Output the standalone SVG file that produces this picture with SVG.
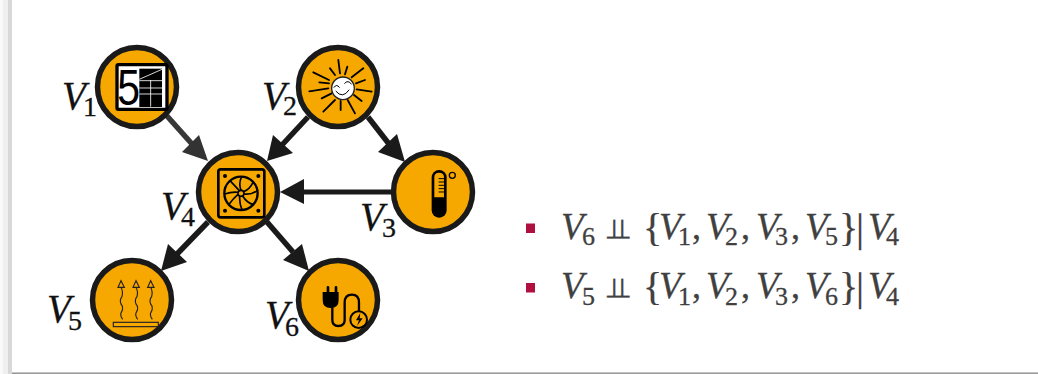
<svg xmlns="http://www.w3.org/2000/svg" width="1038" height="374" viewBox="0 0 1038 374">
<style>
.n{fill:#f7a800;stroke:#1a1a1a;stroke-width:5.500}
.v{font:italic 39px "Liberation Serif",serif;fill:#111;stroke:#111;stroke-width:.3}
.s{font:28px "Liberation Serif",serif;fill:#111;stroke:#111;stroke-width:.3}
.e{font:italic 37px "Liberation Serif",serif;fill:#404040;stroke:#404040;stroke-width:.3}
.d{font:26px "Liberation Serif",serif;fill:#404040;stroke:#404040;stroke-width:.3}
.p{font:36px "Liberation Serif",serif;fill:#404040}
.b{font:40px "Liberation Serif",serif;fill:#404040}
.i{font:28px "DejaVu Sans",sans-serif;fill:#404040;stroke:#404040;stroke-width:.3}
.c{fill:none;stroke:#1a1a1a;stroke-width:5.500}
.h{fill:#1a1a1a}
.k{fill:none;stroke:#000;stroke-linecap:round}
</style>
<rect width="1038" height="374" fill="#fff"/>
<rect x="0" y="0" width="3" height="374" fill="#fafafa"/>
<rect x="3" y="0" width="5" height="374" fill="#efefef"/>
<rect x="8" y="0" width="4" height="374" fill="#d8d8d8"/>
<rect x="12" y="373" width="1026" height="1" fill="#9a9a9a"/>
<rect x="12" y="372" width="1026" height="1" fill="#c4c4c4"/>

<g id="connectors">
<line x1="167" y1="116" x2="192" y2="144" class="c" style="stroke:#383838"/>
<polygon points="208,161 199,135 182,152" fill="#333"/>
<line x1="308" y1="117" x2="282" y2="145" class="c"/>
<polygon points="267,161 273,135 293,153" class="h"/>
<line x1="368" y1="117" x2="389" y2="144" class="c"/>
<polygon points="405,162 397,134 378,152" class="h"/>
<line x1="393" y1="192" x2="302" y2="192" class="c" style="stroke-width:5"/>
<polygon points="280,192 304,179 304,204" class="h"/>
<line x1="208" y1="222" x2="177" y2="254" class="c"/>
<polygon points="161,271 168,244 187,262" class="h"/>
<line x1="267" y1="222" x2="293" y2="252" class="c"/>
<polygon points="309,271 302,244 283,260" class="h"/>
</g>

<g id="V1">
<circle cx="137" cy="87" r="39.500" class="n"/>
<g transform="translate(40,30) scale(.3333)">
<rect x="231" y="104" width="150" height="134" rx="4" fill="#fff" stroke="#000" stroke-width="10"/>
<text x="0" y="0" transform="translate(232,224) scale(.82,1)" style="font:150px 'Liberation Sans',sans-serif;fill:#000">5</text>
<rect x="298" y="116" width="68" height="115" fill="#000"/>
<path d="M298 148L366 118M298 152H366M298 174H366M298 192H366M332 150V230" stroke="#fff" stroke-width="2.500" fill="none"/>
</g>
<text x="62" y="109" class="v">V<tspan class="s" x="83" y="116">1</tspan></text>
</g>

<g id="V2">
<circle cx="338" cy="87" r="39.500" class="n"/>
<g transform="translate(250,30) scale(.3333)">
<path class="k" stroke-width="5.500" d="M265 90L270 130M240 115L255 135M292 110L285 133M340 115L305 142M190 127L237 150M345 150L318 160M208 157L237 160M178 184L235 175M365 185L320 178M215 205L245 190M335 213L312 195M220 245L255 210M272 240L272 213M315 250L293 210"/>
<circle cx="279" cy="175" r="34" fill="#fff" stroke="#222" stroke-width="4"/>
<path class="k" stroke-width="3" stroke="#444" d="M252 172Q260 160 268 172M284 160Q294 148 304 162M258 184Q278 208 297 180"/>
</g>
<text x="262" y="109" class="v">V<tspan class="s" x="283" y="115">2</tspan></text>
</g>

<g id="V3">
<circle cx="433" cy="192" r="39.500" class="n"/>
<g transform="translate(250,30) scale(.3333)">
<rect x="545" y="420" width="45" height="143" rx="22" fill="#000"/>
<path d="M553 502V442Q553 428 567 428Q582 428 582 442V502Z" fill="#f7a800"/>
<path d="M566 446H582M566 456H582M566 466H582M566 476H582M566 486H582" stroke="#000" stroke-width="3"/>
<circle cx="607" cy="436" r="9" fill="none" stroke="#000" stroke-width="4"/>
</g>
<text x="360" y="230" class="v">V<tspan class="s" x="382" y="237">3</tspan></text>
</g>

<g id="V4">
<circle cx="238" cy="192" r="39.500" class="n"/>
<g transform="translate(200,140) scale(.3333)">
<rect x="55" y="88" width="138" height="144" rx="7" fill="none" stroke="#000" stroke-width="8"/>
<circle cx="123" cy="160" r="50" fill="none" stroke="#000" stroke-width="7"/>
<circle cx="123" cy="160" r="9" fill="none" stroke="#000" stroke-width="5"/>
<path fill="none" stroke="#000" stroke-width="5" d="M123 151Q115 130 125 110M131 155Q148 150 160 126M132 162Q155 165 172 152M128 168Q140 188 160 194M119 169Q118 190 126 210M114 163Q100 175 86 194M114 157Q95 155 74 162M118 152Q105 138 90 122"/>
<circle cx="75" cy="108" r="6"/><circle cx="175" cy="108" r="6"/><circle cx="75" cy="212" r="6"/><circle cx="175" cy="212" r="6"/>
</g>
<text x="161" y="219" class="v">V<tspan class="s" x="181" y="226">4</tspan></text>
</g>

<g id="V5">
<circle cx="132" cy="300" r="39.500" class="n"/>
<g transform="translate(30,200) scale(.3333)">
<rect x="250" y="367" width="135" height="13" fill="none" stroke="#222" stroke-width="3.500"/>
<g fill="none" stroke="#222" stroke-width="3.500">
<path d="M278 358Q268 345 275 335Q282 322 273 312Q268 300 276 290Q280 275 273 262"/>
<path d="M273 242L264 262H283Z"/>
<path d="M323 358Q313 345 320 335Q327 322 318 312Q313 300 321 290Q325 275 318 262"/>
<path d="M318 242L309 262H328Z"/>
<path d="M367 358Q357 345 364 335Q371 322 362 312Q357 300 365 290Q369 275 362 262"/>
<path d="M362 242L353 262H372Z"/>
</g>
</g>
<text x="47" y="322" class="v">V<tspan class="s" x="68" y="330">5</tspan></text>
</g>

<g id="V6">
<circle cx="338" cy="300" r="39.500" class="n"/>
<g transform="translate(200,140) scale(.3333)">
<path d="M368 456H416V480Q416 504 392 504Q368 504 368 480Z" fill="#000"/>
<path d="M384 456V442M408 456V442" stroke="#000" stroke-width="8" stroke-linecap="round"/>
<path fill="none" stroke="#000" stroke-width="7" d="M397 502V540Q397 558 415 558Q434 558 434 540V488Q434 464 456 464Q477 464 477 488V514"/>
<circle cx="476" cy="539" r="25" fill="#f7a800" stroke="#000" stroke-width="6"/>
<path d="M481 519L468 541H477L471 558L488 535H479Z" fill="#000"/>
</g>
<text x="265" y="328" class="v">V<tspan class="s" x="285" y="336">6</tspan></text>
</g>

<g id="legend">
<rect x="526" y="223.500" width="9" height="9.500" fill="#b01040"/>
<rect x="526" y="283" width="9" height="9.500" fill="#b01040"/>
<text x="561" y="239" class="e">V<tspan class="d" x="582" y="245">6</tspan></text>
<text class="i" transform="translate(606,239) scale(1.600,1)">⫫</text>
<text x="643" y="239" class="e"><tspan class="b" y="241">{</tspan><tspan x="659" y="239">V</tspan><tspan class="d" x="678" y="245">1</tspan><tspan class="p" x="692" y="239">,</tspan><tspan x="706" y="239">V</tspan><tspan class="d" x="725" y="245">2</tspan><tspan class="p" x="741" y="239">,</tspan><tspan x="756" y="239">V</tspan><tspan class="d" x="775" y="245">3</tspan><tspan class="p" x="791" y="239">,</tspan><tspan x="805" y="239">V</tspan><tspan class="d" x="825" y="245">5</tspan><tspan class="b" x="839" y="241">}</tspan><tspan class="b" x="856" y="241">|</tspan><tspan x="868" y="239">V</tspan><tspan class="d" x="886" y="245">4</tspan></text>
<text x="561" y="298" class="e">V<tspan class="d" x="582" y="305">5</tspan></text>
<text class="i" transform="translate(606,298) scale(1.600,1)">⫫</text>
<text x="643" y="298" class="e"><tspan class="b" y="300">{</tspan><tspan x="659" y="298">V</tspan><tspan class="d" x="678" y="305">1</tspan><tspan class="p" x="692" y="298">,</tspan><tspan x="706" y="298">V</tspan><tspan class="d" x="725" y="305">2</tspan><tspan class="p" x="741" y="298">,</tspan><tspan x="756" y="298">V</tspan><tspan class="d" x="775" y="305">3</tspan><tspan class="p" x="791" y="298">,</tspan><tspan x="805" y="298">V</tspan><tspan class="d" x="825" y="305">6</tspan><tspan class="b" x="839" y="300">}</tspan><tspan class="b" x="856" y="300">|</tspan><tspan x="868" y="298">V</tspan><tspan class="d" x="886" y="305">4</tspan></text>
</g>
</svg>
